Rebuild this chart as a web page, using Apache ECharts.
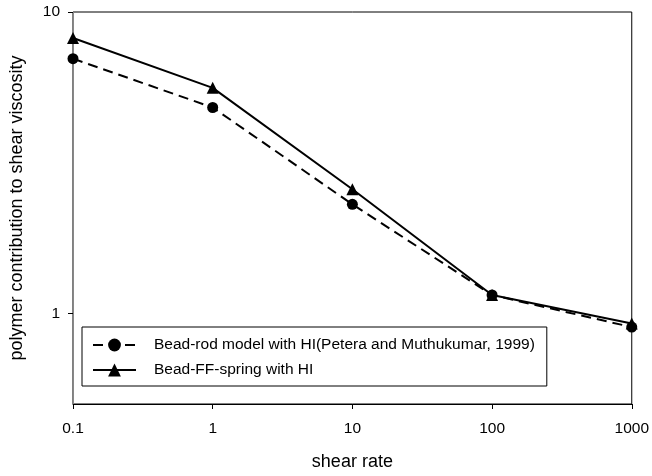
<!DOCTYPE html>
<html><head><meta charset="utf-8">
<script src="https://cdn.jsdelivr.net/npm/echarts@6/dist/echarts.min.js"></script>
<style>html,body{margin:0;padding:0;background:#fff}#c{width:652px;height:476px}</style>
</head><body><div id="c"></div>
<script>
var shearRate = [0.1, 1, 10, 100, 1000];
var beadRod = [7.0, 4.82, 2.30, 1.15, 0.90];
var beadFF = [8.2, 5.6, 2.58, 1.15, 0.925];
var xTicks = [0.1, 1, 10, 100, 1000];
var yTicks = [1, 10];
var seriesNames = ['Bead-rod model with HI(Petera and Muthukumar, 1999)', 'Bead-FF-spring with HI'];

function pairs(xs, ys){ return xs.map(function(x,i){ return [x, ys[i]]; }); }
var font = 'Liberation Sans, Arial, sans-serif';
var chart = echarts.init(document.getElementById('c'), null, {renderer:'canvas'});
chart.setOption({
  animation: false,
  backgroundColor: '#fff',
  grid: {left: 70, right: 19, top: 12, bottom: 70, show: true, borderColor: '#000', borderWidth: 1},
  xAxis: {
    type: 'log', logBase: 10, min: 0.1, max: 1000,
    name: 'shear rate', nameLocation: 'middle', nameGap: 49,
    nameTextStyle: {fontFamily: font, fontSize: 18, color: '#000'},
    axisLine: {show: true, onZero: false, lineStyle: {color: '#000', width: 1}},
    axisTick: {show: true, inside: false, length: 5, customValues: xTicks, lineStyle: {color: '#000'}},
    axisLabel: {customValues: xTicks, margin: 17, fontFamily: font, fontSize: 15.5, color: '#000',
      formatter: function(v){ return String(v); }},
    splitLine: {show: false}, minorTick: {show: false}
  },
  yAxis: {
    type: 'log', logBase: 10, min: 0.5, max: 10,
    name: 'polymer contribution to shear viscosity', nameLocation: 'middle', nameGap: 47,
    nameTextStyle: {fontFamily: font, fontSize: 18, color: '#000'},
    axisLine: {show: true, onZero: false, lineStyle: {color: '#888', width: 1}},
    axisTick: {show: true, inside: false, length: 5, customValues: yTicks, lineStyle: {color: '#000'}},
    axisLabel: {customValues: yTicks, margin: 13, fontFamily: font, fontSize: 15.5, color: '#000',
      formatter: function(v){ return String(v); }},
    splitLine: {show: false}, minorTick: {show: false}
  },
  legend: {
    orient: 'vertical', left: 82, top: 327,
    backgroundColor: '#fff', borderColor: '#000', borderWidth: 1, borderRadius: 0,
    padding: [10, 12, 8, 10], itemGap: 9, itemWidth: 43, itemHeight: 16,
    textStyle: {fontFamily: font, fontSize: 15.5, color: '#000', padding: [0,0,0,13]},
    data: seriesNames
  },
  series: [
    {name: seriesNames[0], type: 'line', data: pairs(shearRate, beadRod),
     symbol: 'circle', symbolSize: 11, itemStyle: {color: '#000'},
     lineStyle: {color: '#000', width: 2, type: [10, 6]}},
    {name: seriesNames[1], type: 'line', data: pairs(shearRate, beadFF),
     symbol: 'triangle', symbolSize: 12, itemStyle: {color: '#000'},
     lineStyle: {color: '#000', width: 2, type: 'solid'}}
  ]
});
</script></body></html>
